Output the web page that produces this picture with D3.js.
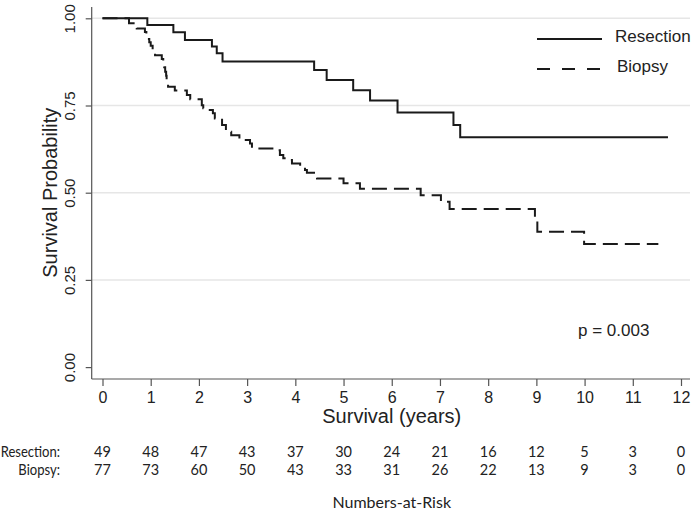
<!DOCTYPE html>
<html>
<head>
<meta charset="utf-8">
<script src="https://cdn.jsdelivr.net/npm/d3@7"></script>
<style>
  html, body { margin: 0; padding: 0; background: #fff; }
  svg { display: block; }
</style>
</head>
<body>
<svg id="chart" width="700" height="513"></svg>
<script>
// ---------- data ----------
const xTicks = [0,1,2,3,4,5,6,7,8,9,10,11,12];
const yTicks = [0, 0.25, 0.5, 0.75, 1.0];
const yGridTicks = [0.25, 0.5, 0.75, 1.0];

const resectionTimes = [0, 0.93, 1.47, 1.71, 2.27, 2.37, 2.49, 4.39, 4.65, 5.20, 5.55, 6.12, 7.28, 7.42, 11.73];
const resectionSurv  = [1.0, 0.981, 0.960, 0.938, 0.919, 0.900, 0.876, 0.852, 0.823, 0.794, 0.764, 0.730, 0.694, 0.659, 0.659];

const biopsyTimes = [0, 0.55, 0.71, 0.88, 0.91, 0.94, 0.97, 1.00, 1.04, 1.07, 1.09,
  1.23, 1.26, 1.28, 1.30, 1.32, 1.33, 1.36, 1.50, 1.75, 1.82, 2.06, 2.09, 2.20, 2.29, 2.33,
  2.48, 2.56, 2.67, 2.84, 3.06, 3.10, 3.60, 3.68, 3.75, 3.89, 3.93, 4.10, 4.20, 4.24, 4.41, 4.45,
  5.00, 5.34, 6.60, 7.02, 7.20, 8.97, 9.02, 9.99, 11.53];
const biopsySurv = [1.0, 0.986, 0.971, 0.961, 0.951, 0.941, 0.931, 0.921, 0.911, 0.902, 0.894,
  0.883, 0.872, 0.860, 0.847, 0.835, 0.818, 0.804, 0.793, 0.780, 0.768, 0.751, 0.742, 0.737, 0.728, 0.713,
  0.694, 0.675, 0.665, 0.651, 0.641, 0.627, 0.622, 0.608, 0.599, 0.594, 0.584, 0.575, 0.565, 0.557, 0.551, 0.541,
  0.527, 0.511, 0.493, 0.474, 0.453, 0.420, 0.388, 0.353, 0.353];

const riskGroups = ["Resection:", "Biopsy:"];
const riskResection = [49, 48, 47, 43, 37, 30, 24, 21, 16, 12, 5, 3, 0];
const riskBiopsy    = [77, 73, 60, 50, 43, 33, 31, 26, 22, 13, 9, 3, 0];

const legendLabels = ["Resection", "Biopsy"];
const pText = "p = 0.003";

// ---------- layout ----------
const svg = d3.select("#chart");
const axisFont = "'Liberation Sans', Arial, sans-serif";
const tableFont = "Lato, 'Open Sans', sans-serif";
const plotLeft = 91.7, plotRight = 690, plotTop = 7, plotBottom = 379;

const x = d3.scaleLinear().domain([0, 12]).range([102.5, 681]);
const y = d3.scaleLinear().domain([0, 1]).range([367.1, 18.3]);

// gridlines
svg.append("g").selectAll("line").data(yGridTicks).join("line")
  .attr("x1", plotLeft).attr("x2", plotRight)
  .attr("y1", d => y(d)).attr("y2", d => y(d))
  .attr("stroke", "#e6e6e6").attr("stroke-width", 1.5);

// axes lines
svg.append("line").attr("x1", plotLeft).attr("x2", plotLeft)
  .attr("y1", plotTop).attr("y2", plotBottom)
  .attr("stroke", "#555").attr("stroke-width", 1.2);
svg.append("line").attr("x1", plotLeft).attr("x2", plotRight)
  .attr("y1", plotBottom).attr("y2", plotBottom)
  .attr("stroke", "#555").attr("stroke-width", 1.2);

// x axis
const xAxis = svg.append("g").attr("transform", `translate(0,${plotBottom})`)
  .call(d3.axisBottom(x).tickValues(xTicks).tickFormat(d3.format("d")).tickSize(7).tickPadding(6));
xAxis.select(".domain").remove();
xAxis.selectAll(".tick line").attr("stroke", "#555").attr("stroke-width", 1.2);
xAxis.selectAll(".tick text").attr("font-family", axisFont).attr("font-size", 16).attr("fill", "#222");

// y axis
const yAxis = svg.append("g").attr("transform", `translate(${plotLeft},0)`)
  .call(d3.axisLeft(y).tickValues(yTicks).tickFormat(d3.format(".2f")).tickSize(6));
yAxis.select(".domain").remove();
yAxis.selectAll(".tick line").attr("stroke", "#555").attr("stroke-width", 1.2);
yAxis.selectAll(".tick text")
  .attr("transform", "rotate(-90)")
  .attr("text-anchor", "middle")
  .attr("x", 0).attr("y", -16.7).attr("dy", 0)
  .attr("font-family", axisFont).attr("font-size", 15).attr("fill", "#222");

// axis titles
svg.append("text")
  .attr("transform", `translate(57,${(y(0) + y(1)) / 2}) rotate(-90)`)
  .attr("text-anchor", "middle")
  .attr("font-family", axisFont).attr("font-size", 20).attr("fill", "#222")
  .text("Survival Probability");
svg.append("text")
  .attr("x", (x(0) + x(12)) / 2).attr("y", 423)
  .attr("text-anchor", "middle")
  .attr("font-family", axisFont).attr("font-size", 20).attr("fill", "#222")
  .text("Survival (years)");

// curves
const line = d3.line().x(d => x(d[0])).y(d => y(d[1])).curve(d3.curveStepAfter);
const resData = resectionTimes.map((t, i) => [t, resectionSurv[i]]);
const bioData = biopsyTimes.map((t, i) => [t, biopsySurv[i]]);

svg.append("path").datum(resData).attr("d", line)
  .attr("fill", "none").attr("stroke", "#1a1a1a").attr("stroke-width", 2);
svg.append("path").datum(bioData).attr("d", line)
  .attr("fill", "none").attr("stroke", "#1a1a1a").attr("stroke-width", 2)
  .attr("stroke-dasharray", "15,7");

// legend
const legY = [39, 69];
svg.append("line").attr("x1", 537).attr("x2", 602).attr("y1", legY[0]).attr("y2", legY[0])
  .attr("stroke", "#1a1a1a").attr("stroke-width", 2);
svg.append("line").attr("x1", 537).attr("x2", 602).attr("y1", legY[1]).attr("y2", legY[1])
  .attr("stroke", "#1a1a1a").attr("stroke-width", 2).attr("stroke-dasharray", "13,12");
svg.append("g").selectAll("text").data(legendLabels).join("text")
  .attr("x", (d, i) => i === 0 ? 615 : 617)
  .attr("y", (d, i) => legY[i] + 3)
  .attr("font-family", axisFont).attr("font-size", 17).attr("fill", "#222")
  .text(d => d);

// p value
svg.append("text").attr("x", 578).attr("y", 336)
  .attr("font-family", axisFont).attr("font-size", 17).attr("fill", "#222")
  .text(pText);

// risk table
const rowY = [457, 475];
const riskRows = [riskResection, riskBiopsy];
svg.append("g").selectAll("text").data(riskGroups).join("text")
  .attr("transform", (d, i) => `translate(60,${rowY[i]}) scale(0.9,1)`)
  .attr("text-anchor", "end")
  .attr("font-family", tableFont).attr("font-size", 14.5).attr("fill", "#222")
  .text(d => d);
riskRows.forEach((row, r) => {
  svg.append("g").selectAll("text").data(row).join("text")
    .attr("x", (d, i) => x(xTicks[i])).attr("y", rowY[r])
    .attr("text-anchor", "middle")
    .attr("font-family", tableFont).attr("font-size", 14.5).attr("fill", "#222")
    .text(d => d);
});
svg.append("text").attr("x", (x(0) + x(12)) / 2).attr("y", 508)
  .attr("text-anchor", "middle")
  .attr("font-family", tableFont).attr("font-size", 16).attr("fill", "#222")
  .text("Numbers-at-Risk");
</script>
</body>
</html>
